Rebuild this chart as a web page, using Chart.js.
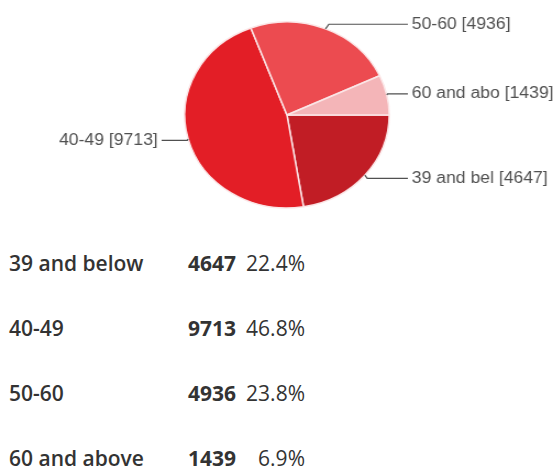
<!DOCTYPE html>
<html><head><meta charset="utf-8">
<script src="https://cdn.jsdelivr.net/npm/chart.js@4"></script>
<style>
html,body{margin:0;padding:0;background:#fff;width:553px;height:471px;overflow:hidden;position:relative}
#c{position:absolute;left:0;top:0}
.row{position:absolute;left:0;width:553px;height:30px;font-family:'Open Sans',sans-serif;font-size:21px;color:#333;line-height:30px;white-space:nowrap}
.cat{position:absolute;left:9px;font-weight:600}
.num{position:absolute;left:188px;font-weight:700}
.pct{position:absolute;right:248px;font-weight:500}
</style></head>
<body>
<canvas id="c" width="503" height="235" style="width:553px;height:235px"></canvas>
<div id="table"></div>
<script>
const categories = ['39 and below', '40-49', '50-60', '60 and above'];
const pieLabels = ['39 and bel', '40-49', '50-60', '60 and abo'];
const values = [4647, 9713, 4936, 1439];
const percents = ['22.4%', '46.8%', '23.8%', '6.9%'];
const colors = ['#c11d25', '#e31e26', '#ec4b50', '#f4b5b8'];

const leaderPlugin = {
  id: 'leaders',
  afterDatasetsDraw(chart) {
    const ctx = chart.ctx;
    const meta = chart.getDatasetMeta(0);
    ctx.save();
    ctx.font = '16px "Liberation Sans", Arial, sans-serif';
    ctx.fillStyle = '#505050';
    ctx.strokeStyle = '#505050';
    ctx.lineWidth = 1.2;
    ctx.textBaseline = 'middle';
    meta.data.forEach((arc, i) => {
      const p = arc.getProps(['x', 'y', 'startAngle', 'endAngle', 'outerRadius'], true);
      const mid = (p.startAngle + p.endAngle) / 2;
      const c = Math.cos(mid), s = Math.sin(mid);
      const r = p.outerRadius;
      const ax = p.x + r * c, ay = p.y + r * s;
      const ly = p.y + (r + 5) * s;
      const right = c >= 0;
      const ex = ax + (right ? 1 : -1) * Math.abs(ly - ay) * 0.65;
      const lx = right ? p.x + r + 17 : p.x - r - 21;
      ctx.beginPath();
      ctx.moveTo(ax, ay);
      ctx.lineTo(ex, ly);
      ctx.lineTo(lx, ly);
      ctx.stroke();
      ctx.textAlign = right ? 'left' : 'right';
      ctx.fillText(pieLabels[i] + ' [' + values[i] + ']', lx + (right ? 3.5 : -3.5), ly);
    });
    ctx.restore();
  }
};

new Chart(document.getElementById('c'), {
  type: 'pie',
  data: {
    labels: categories,
    datasets: [{
      data: values,
      backgroundColor: colors,
      borderColor: '#fbe6e7',
      borderWidth: 1.5,
      radius: 93
    }]
  },
  options: {
    responsive: false,
    animation: false,
    rotation: 90,
    layout: { padding: { left: 168, right: 149, top: 22, bottom: 27 } },
    plugins: { legend: { display: false }, tooltip: { enabled: false } }
  },
  plugins: [leaderPlugin]
});

const table = document.getElementById('table');
categories.forEach((cat, i) => {
  const row = document.createElement('div');
  row.className = 'row';
  row.style.top = (263 + i * 65 - 15) + 'px';
  row.innerHTML = '<span class="cat"></span><span class="num"></span><span class="pct"></span>';
  row.children[0].textContent = cat;
  row.children[1].textContent = values[i];
  row.children[2].textContent = percents[i];
  table.appendChild(row);
});
</script>
</body></html>
